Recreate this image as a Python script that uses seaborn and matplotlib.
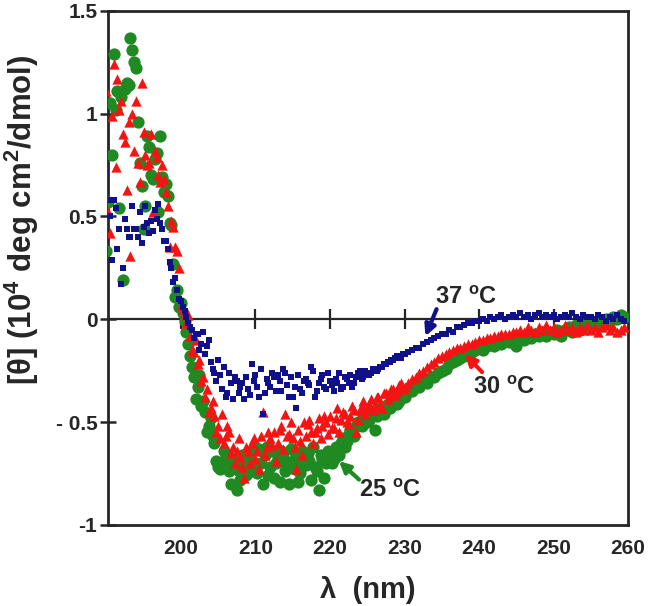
import numpy as np
import pandas as pd
import matplotlib
matplotlib.use("Agg")
import matplotlib.pyplot as plt
import seaborn as sns

# wavelength grids (nm): dense below 200, 0.5 nm above, plus an offset
# half-step grid through the main band (200-230 nm)
WL_SHORT = np.arange(190.0, 200.0, 0.25)
WL_LONG = np.arange(200.0, 260.0, 0.5)
WL_MID = np.arange(200.25, 230.0, 0.5)

# [theta] values, 10^4 deg cm2/dmol
GREEN_SHORT = [
    0.33, 0.57, 1.05, 0.80, 1.29, 1.02, 1.11, 0.54,
    1.08, 0.19, 1.12, 1.15, 1.14, 1.37, 1.31, 1.25,
    1.22, 0.96, 0.76, 0.65, 0.44, 0.55, 0.89, 0.84,
    0.70, 0.68, 0.78, 0.81, 0.52, 0.89, 0.69, 0.62,
    0.66, 0.60, 0.47, 0.46, 0.27, 0.11, 0.14, 0.06,
]
GREEN_LONG = [
    0.08, -0.01, -0.12, -0.23, -0.39, -0.27, -0.40, -0.55, -0.48, -0.60,
    -0.72, -0.70, -0.66, -0.74, -0.72, -0.83, -0.78, -0.70, -0.66, -0.74,
    -0.70, -0.63, -0.80, -0.62, -0.72, -0.77, -0.68, -0.64, -0.74, -0.80,
    -0.69, -0.66, -0.75, -0.70, -0.65, -0.78, -0.72, -0.83, -0.68, -0.70,
    -0.65, -0.68, -0.64, -0.60, -0.62, -0.56, -0.55, -0.52, -0.50, -0.48,
    -0.50, -0.46, -0.54, -0.44, -0.45, -0.42, -0.43, -0.40, -0.41, -0.37,
    -0.38, -0.35, -0.35, -0.33, -0.33, -0.30, -0.31, -0.28, -0.28, -0.26,
    -0.25, -0.24, -0.22, -0.21, -0.20, -0.19, -0.18, -0.16, -0.16, -0.15,
    -0.14, -0.15, -0.13, -0.12, -0.13, -0.11, -0.12, -0.10, -0.11, -0.10,
    -0.13, -0.09, -0.10, -0.08, -0.09, -0.07, -0.08, -0.06, -0.08, -0.06,
    -0.07, -0.05, -0.08, -0.05, -0.04, -0.06, -0.03, -0.05, -0.03, -0.04,
    -0.02, -0.03, -0.01, -0.02, 0.00, -0.01, 0.01, 0.00, 0.02, 0.01,
]
GREEN_MID = [
    0.03, -0.06, -0.18, -0.28, -0.33, -0.42, -0.45, -0.52, -0.57, -0.69,
    -0.73, -0.64, -0.70, -0.80, -0.68, -0.74, -0.66, -0.76, -0.71, -0.62,
    -0.75, -0.70, -0.66, -0.76, -0.64, -0.70, -0.79, -0.67, -0.71, -0.63,
    -0.73, -0.79, -0.64, -0.71, -0.69, -0.62, -0.74, -0.66, -0.77, -0.64,
    -0.70, -0.62, -0.66, -0.58, -0.59, -0.54, -0.57, -0.50, -0.52, -0.47,
    -0.49, -0.45, -0.47, -0.43, -0.46, -0.41, -0.42, -0.39, -0.40, -0.36,
]

RED_SHORT = [
    1.11, 0.52, 0.42, 0.99, 1.24, 0.74, 1.17, 1.02,
    1.06, 0.90, 0.86, 0.63, 0.96, 0.31, 1.00, 0.82,
    1.06, 0.76, 0.67, 1.15, 0.91, 0.80, 0.75, 0.76,
    0.90, 0.52, 0.82, 0.79, 0.70, 0.67, 0.75, 0.68,
    0.62, 0.55, 0.35, 0.48, 0.45, 0.35, 0.33, 0.25,
]
RED_LONG = [
    0.07, 0.03, 0.02, -0.15, -0.10, -0.20, -0.28, -0.34, -0.43, -0.47,
    -0.52, -0.46, -0.57, -0.55, -0.62, -0.64, -0.67, -0.77, -0.64, -0.60,
    -0.68, -0.73, -0.45, -0.62, -0.58, -0.55, -0.60, -0.52, -0.46, -0.56,
    -0.58, -0.73, -0.59, -0.50, -0.51, -0.55, -0.55, -0.48, -0.52, -0.50,
    -0.47, -0.53, -0.43, -0.49, -0.46, -0.51, -0.42, -0.55, -0.44, -0.40,
    -0.43, -0.39, -0.41, -0.38, -0.43, -0.36, -0.37, -0.34, -0.35, -0.31,
    -0.33, -0.31, -0.29, -0.28, -0.26, -0.25, -0.23, -0.22, -0.21, -0.19,
    -0.18, -0.17, -0.16, -0.15, -0.14, -0.14, -0.13, -0.12, -0.12, -0.11,
    -0.10, -0.10, -0.09, -0.09, -0.08, -0.08, -0.07, -0.07, -0.07, -0.06,
    -0.06, -0.05, -0.06, -0.04, -0.05, -0.06, -0.04, -0.05, -0.03, -0.05,
    -0.04, -0.06, -0.05, -0.03, -0.05, -0.04, -0.06, -0.04, -0.05, -0.03,
    -0.05, -0.04, -0.06, -0.04, -0.03, -0.05, -0.04, -0.06, -0.05, -0.04,
]
RED_MID = [
    0.05, -0.02, -0.08, -0.16, -0.22, -0.30, -0.38, -0.45, -0.40, -0.55,
    -0.58, -0.60, -0.52, -0.65, -0.70, -0.58, -0.72, -0.62, -0.70, -0.58,
    -0.64, -0.57, -0.66, -0.55, -0.61, -0.69, -0.54, -0.63, -0.57, -0.50,
    -0.62, -0.54, -0.66, -0.57, -0.49, -0.60, -0.53, -0.58, -0.47, -0.56,
    -0.53, -0.48, -0.55, -0.45, -0.50, -0.47, -0.44, -0.49, -0.42, -0.46,
    -0.41, -0.44, -0.38, -0.42, -0.36, -0.39, -0.34, -0.37, -0.32, -0.34,
]

BLUE_SHORT = [
    0.71, 0.58, 0.50, 0.29, 0.58, 0.54, 0.34, 0.44,
    0.17, 0.25, 0.49, 0.44, 0.40, 0.40, 0.55, 0.44,
    0.44, 0.40, 0.52, 0.37, 0.45, 0.55, 0.47, 0.42,
    0.48, 0.43, 0.53, 0.49, 0.56, 0.47, 0.44, 0.38,
    0.38, 0.34, 0.28, 0.25, 0.18, 0.20, 0.14, 0.10,
]
BLUE_LONG = [
    0.09, 0.04, -0.02, -0.05, -0.07, -0.15, -0.06, -0.13, -0.21, -0.26,
    -0.20, -0.34, -0.38, -0.26, -0.39, -0.30, -0.33, -0.39, -0.34, -0.22,
    -0.27, -0.38, -0.46, -0.29, -0.33, -0.28, -0.27, -0.35, -0.26, -0.38,
    -0.38, -0.43, -0.34, -0.30, -0.31, -0.23, -0.38, -0.31, -0.27, -0.34,
    -0.30, -0.35, -0.31, -0.34, -0.28, -0.31, -0.33, -0.28, -0.25, -0.28,
    -0.27, -0.26, -0.25, -0.24, -0.23, -0.22, -0.21, -0.20, -0.18, -0.19,
    -0.17, -0.16, -0.15, -0.14, -0.14, -0.12, -0.11, -0.10, -0.09, -0.08,
    -0.07, -0.07, -0.05, -0.06, -0.04, -0.04, -0.03, -0.02, -0.02, -0.01,
    -0.01, 0.00, -0.01, 0.01, 0.00, 0.01, 0.02, 0.00, 0.01, 0.02,
    0.01, 0.03, 0.01, 0.02, 0.00, 0.02, 0.03, 0.01, 0.02, 0.01,
    0.02, 0.00, 0.01, 0.02, 0.01, 0.03, 0.01, 0.00, 0.02, 0.01,
    0.01, 0.00, 0.02, 0.01, -0.01, 0.01, 0.00, 0.02, 0.00, -0.01,
]
BLUE_MID = [
    0.06, 0.01, -0.04, -0.09, -0.07, -0.12, -0.17, -0.10, -0.24, -0.30,
    -0.27, -0.23, -0.36, -0.31, -0.28, -0.36, -0.31, -0.28, -0.37, -0.30,
    -0.33, -0.24, -0.36, -0.31, -0.26, -0.35, -0.30, -0.24, -0.32, -0.28,
    -0.33, -0.27, -0.36, -0.29, -0.32, -0.25, -0.35, -0.29, -0.33, -0.26,
    -0.32, -0.29, -0.26, -0.33, -0.29, -0.27, -0.31, -0.26, -0.29, -0.25,
    -0.27, -0.24, -0.25, -0.23, -0.22, -0.21, -0.20, -0.19, -0.18, -0.17,
]

Y_TICKS = [-1, -0.5, 0, 0.5, 1, 1.5]
Y_TICKLABELS = ["-1", "- 0.5", "0", "0.5", "1", "1.5"]
X_TICKS = [200, 210, 220, 230, 240, 250, 260]

GREEN = "#1f8a22"
RED = "#f51414"
NAVY = "#10108a"

# ──────────────────────────────────────────────────────────────
# style
# ──────────────────────────────────────────────────────────────
sns.set_style("ticks")
plt.rcParams["font.family"] = ["Liberation Sans", "DejaVu Sans"]
plt.rcParams["font.weight"] = "bold"
plt.rcParams["mathtext.fontset"] = "custom"
plt.rcParams["mathtext.rm"] = "Liberation Sans:bold"
plt.rcParams["mathtext.bf"] = "Liberation Sans:bold"
plt.rcParams["mathtext.it"] = "Liberation Sans:bold"
plt.rcParams["mathtext.default"] = "bf"


def series(short, long, mid):
    return pd.DataFrame({
        "wl": np.concatenate([WL_SHORT, WL_LONG, WL_MID]),
        "theta": short + long + mid,
    })


green_df = series(GREEN_SHORT, GREEN_LONG, GREEN_MID)
red_df = series(RED_SHORT, RED_LONG, RED_MID)
blue_df = series(BLUE_SHORT, BLUE_LONG, BLUE_MID)

fig = plt.figure(figsize=(6.53, 6.06), dpi=100)
ax = fig.add_axes([0.165, 0.134, 0.797, 0.848])

sns.scatterplot(data=green_df, x="wl", y="theta", ax=ax, marker="o",
                s=78, color=GREEN, linewidth=0, legend=False, zorder=3)
sns.scatterplot(data=red_df, x="wl", y="theta", ax=ax, marker="^",
                s=55, color=RED, linewidth=0, legend=False, zorder=3)
sns.scatterplot(data=blue_df, x="wl", y="theta", ax=ax, marker="s",
                s=17, color=NAVY, linewidth=0, legend=False, zorder=3)

ax.set_xlim(190.2, 260.0)
ax.set_ylim(-1, 1.5)

# zero line carries the x ticks; labels sit on the bottom frame
ax.spines["bottom"].set_position(("data", 0))
ax.set_xticks(X_TICKS[:-1])
ax.tick_params(axis="x", direction="inout", length=15, width=1.6, labelbottom=False)
ax.set_xlabel("")

ax.set_yticks(Y_TICKS)
ax.set_yticklabels(Y_TICKLABELS)
ax.tick_params(axis="y", direction="inout", length=11, width=1.8, labelsize=15, pad=2)
for lab in ax.get_yticklabels():
    lab.set_fontweight("bold")

for side in ["left", "right", "top"]:
    ax.spines[side].set_linewidth(2.0)
ax.spines["bottom"].set_linewidth(1.6)

sec = ax.secondary_xaxis("bottom")
sec.set_xticks(X_TICKS)
sec.tick_params(axis="x", length=0, pad=10, labelsize=15)
for lab in sec.get_xticklabels():
    lab.set_fontweight("bold")
sec.spines["bottom"].set_linewidth(2.0)
sec.set_xlabel("λ  (nm)", fontsize=21, fontweight="bold", labelpad=13)

ax.set_ylabel("[θ] (10$^4$ deg cm$^2$/dmol)", fontsize=22.5, fontweight="bold", va="center")
ax.yaxis.set_label_coords(-0.166, 0.594)

# annotations
notes = [
    ("37 $^{o}$C", NAVY, (238.3, 0.107), (234.3, 0.049), (232.8, -0.083)),
    ("30 $^{o}$C", RED, (243.3, -0.33), (240.4, -0.257), (238.1, -0.17)),
    ("25 $^{o}$C", GREEN, (228.1, -0.835), (223.9, -0.78), (221.2, -0.69)),
]
for label, col, txt_xy, tail, head in notes:
    ax.text(*txt_xy, label, fontsize=17, fontweight="bold", ha="center", va="center", zorder=5)
    ax.annotate("", xy=head, xytext=tail,
                arrowprops=dict(arrowstyle="-|>", color=col, lw=3, mutation_scale=16,
                                shrinkA=0, shrinkB=0), zorder=5)

fig.savefig("out.png", dpi=100)
